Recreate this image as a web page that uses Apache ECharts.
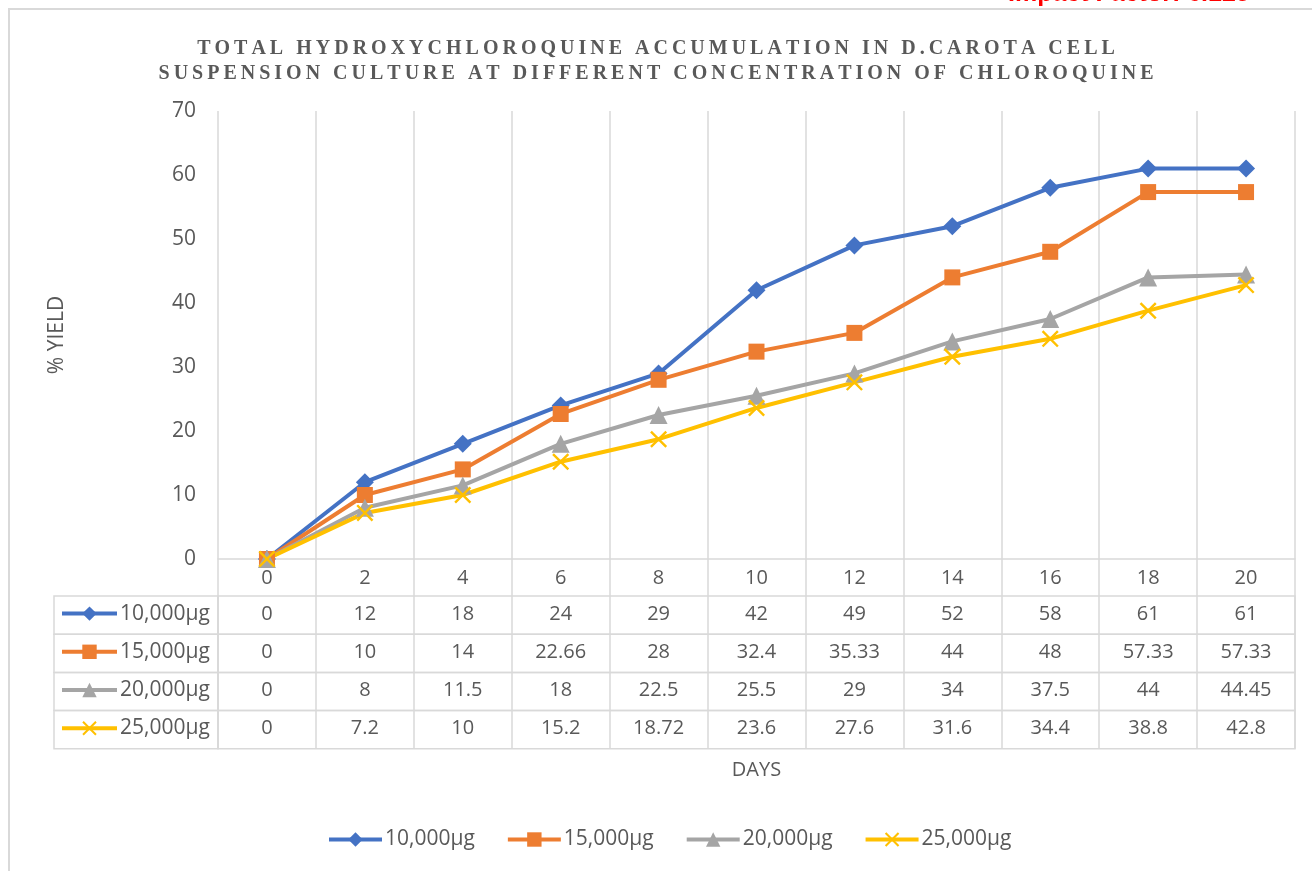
<!DOCTYPE html>
<html>
<head>
<meta charset="utf-8">
<title>Total hydroxychloroquine accumulation</title>
<script src="https://cdn.jsdelivr.net/npm/echarts@6/dist/echarts.min.js"></script>
<style>
  html, body { margin: 0; padding: 0; background: #ffffff; }
  #chart { width: 1312px; height: 871px; }
</style>
</head>
<body>
<div id="chart"></div>
<script>
// ---- data ----
const days = ['0', '2', '4', '6', '8', '10', '12', '14', '16', '18', '20'];
const seriesNames = ['10,000µg', '15,000µg', '20,000µg', '25,000µg'];
const yield10000 = [0, 12, 18, 24, 29, 42, 49, 52, 58, 61, 61];
const yield15000 = [0, 10, 14, 22.66, 28, 32.4, 35.33, 44, 48, 57.33, 57.33];
const yield20000 = [0, 8, 11.5, 18, 22.5, 25.5, 29, 34, 37.5, 44, 44.45];
const yield25000 = [0, 7.2, 10, 15.2, 18.72, 23.6, 27.6, 31.6, 34.4, 38.8, 42.8];
const yTicks = { min: 0, max: 70, interval: 10 };
const titleLines = [
  'TOTAL HYDROXYCHLOROQUINE ACCUMULATION IN D.CAROTA CELL',
  'SUSPENSION CULTURE AT DIFFERENT CONCENTRATION OF CHLOROQUINE'
];
const cornerNote = 'Impact Factor: 6.125';

// ---- styling / layout ----
const allYields = [yield10000, yield15000, yield20000, yield25000];
const colors = ['#4472C4', '#ED7D31', '#A5A5A5', '#FFC000'];
const crossPath = 'path://M0,1L1,0L5,4L9,0L10,1L6,5L10,9L9,10L5,6L1,10L0,9L4,5Z';
const symbols = ['diamond', 'rect', 'triangle', crossPath];
const symbolSizes = [18, 16, 18, 17];
const textColor = '#595959';
const lineColor = '#d9d9d9';
const font = 'Open Sans';

const W = 1312, H = 871;
const plotLeft = 218, plotRight = 1295, plotTop = 111, plotBottom = 559;
const headerH = 37;
const rowH = 38.2;
const tableTop = plotBottom + headerH;
const tableLeft = 54;

// Title letters spaced out via rich-text tokens
const spaced = line => line.split('').map(ch => '{t|' + ch + '}').join('');

const legendBase = {
  padding: 0, selectedMode: false, itemHeight: 18,
  lineStyle: { width: 4 },
  textStyle: { color: textColor, fontFamily: font, fontSize: 21, padding: [0, 0, 0, -2] }
};

const grids = [{
  left: plotLeft, right: W - plotRight, top: plotTop, height: plotBottom - plotTop
}];
const xAxes = [{
  type: 'category', gridIndex: 0, data: days, boundaryGap: true,
  axisLine: { show: true, lineStyle: { color: lineColor, width: 1.5 } },
  axisTick: { show: true, interval: 0, length: headerH, lineStyle: { color: lineColor, width: 1.5 } },
  splitLine: { show: true, interval: 0, lineStyle: { color: lineColor, width: 1.5 } },
  axisLabel: { color: textColor, fontFamily: font, fontSize: 20, margin: 9, interval: 0 },
  name: 'DAYS', nameLocation: 'middle', nameGap: 201,
  nameTextStyle: { color: textColor, fontFamily: font, fontSize: 20 }
}];
const yAxes = [{
  type: 'value', gridIndex: 0, min: yTicks.min, max: yTicks.max, interval: yTicks.interval,
  axisLine: { show: false }, axisTick: { show: false }, splitLine: { show: false },
  axisLabel: { color: textColor, fontFamily: font, fontSize: 21, margin: 22 },
  name: '% YIELD', nameLocation: 'middle', nameRotate: 90, nameGap: 150,
  nameTextStyle: { color: textColor, fontFamily: font, fontSize: 21 }
}];
const legends = [Object.assign({}, legendBase, {
  data: seriesNames, left: 327, top: 829, itemWidth: 53, itemGap: 31
})];
const tableFrames = [];

// Data table rows: one grid per series, values shown as axis labels
allYields.forEach((vals, i) => {
  const top = tableTop + i * rowH;
  grids.push({
    left: plotLeft, right: W - plotRight, top: top, height: rowH,
    show: true, borderColor: lineColor, borderWidth: 1.5
  });
  xAxes.push({
    type: 'category', gridIndex: i + 1, data: days, position: 'top', boundaryGap: true,
    axisLine: { show: false }, axisTick: { show: false },
    splitLine: { show: true, interval: 0, lineStyle: { color: lineColor, width: 1.5 } },
    axisLabel: {
      inside: true, interval: 0, margin: 8, color: textColor, fontFamily: font, fontSize: 20,
      formatter: (v, idx) => String(vals[idx])
    }
  });
  yAxes.push({ type: 'value', gridIndex: i + 1, show: false });
  legends.push(Object.assign({}, legendBase, {
    data: [seriesNames[i]], left: 60, top: top + rowH / 2 - 12, itemWidth: 55
  }));
  tableFrames.push({
    type: 'rect', silent: true,
    shape: { x: tableLeft, y: top, width: plotLeft - tableLeft, height: rowH },
    style: { fill: 'none', stroke: lineColor, lineWidth: 1.5 }
  });
});

const series = allYields.map((vals, i) => ({
  name: seriesNames[i], type: 'line', xAxisIndex: 0, yAxisIndex: 0,
  data: vals, symbol: symbols[i], symbolSize: symbolSizes[i],
  lineStyle: { color: colors[i], width: 4 },
  itemStyle: { color: colors[i] },
  emphasis: { disabled: true },
  animation: false
}));

const chart = echarts.init(document.getElementById('chart'), null, { renderer: 'canvas' });
chart.setOption({
  backgroundColor: '#ffffff',
  animation: false,
  title: {
    text: titleLines.map(spaced).join('\n'),
    left: 'center', top: 31,
    textStyle: {
      rich: {
        t: {
          fontFamily: 'Liberation Serif', fontWeight: 'bold', fontSize: 20,
          color: textColor, padding: [0, 2.0], lineHeight: 25
        }
      }
    }
  },
  grid: grids,
  xAxis: xAxes,
  yAxis: yAxes,
  legend: legends,
  graphic: [
    {
      type: 'rect', silent: true, z: -1,
      shape: { x: 9, y: 9, width: W + 50, height: H + 50 },
      style: { fill: 'none', stroke: lineColor, lineWidth: 2 }
    },
    {
      type: 'text', silent: true, x: 1008, y: -6,
      style: { text: cornerNote, fill: '#ff0000', font: 'bold 25px "Liberation Sans"', verticalAlign: 'middle' }
    }
  ].concat(tableFrames),
  series: series
});
</script>
</body>
</html>
